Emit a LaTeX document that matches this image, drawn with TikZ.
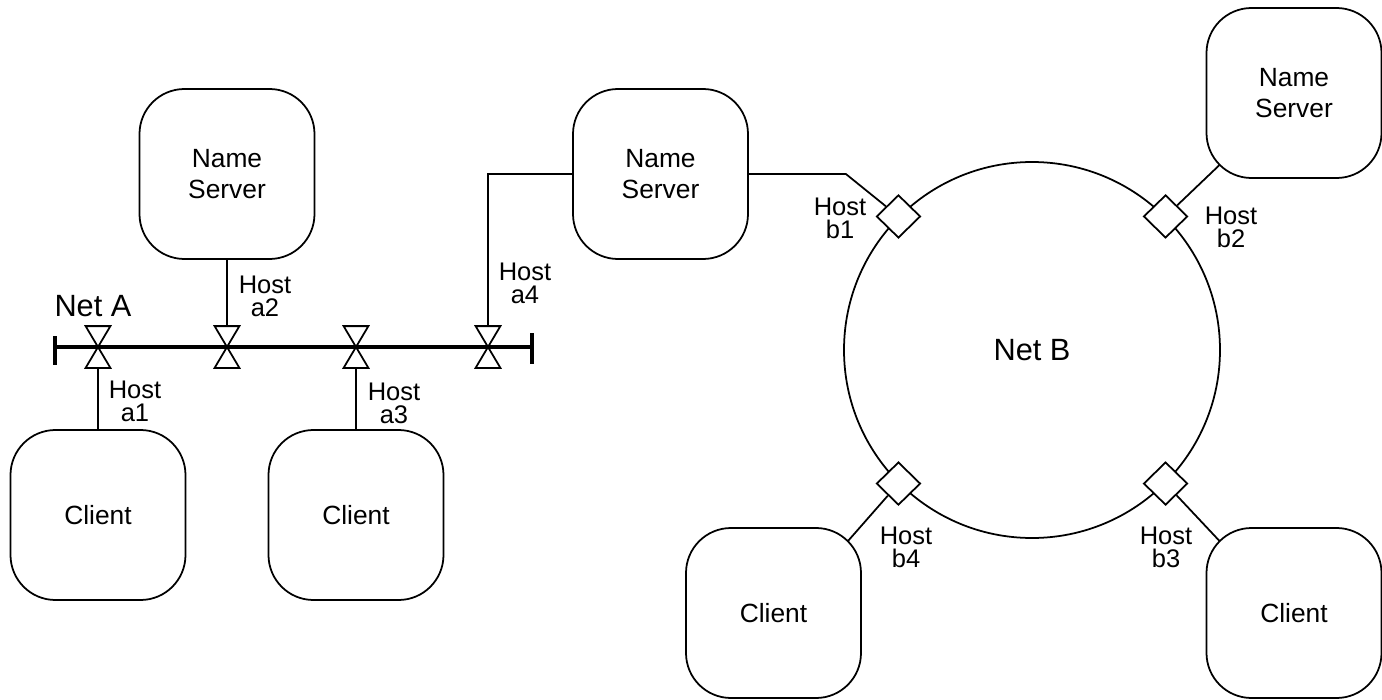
\documentclass[tikz,border=0pt]{standalone}
\usepackage{fontspec}
\setmainfont{Liberation Sans}
\usetikzlibrary{shapes.geometric}

\begin{document}
\begin{tikzpicture}[line width=1pt,
      box/.style={draw,rounded corners=0.9cm,minimum width=3.5cm,minimum height=3.4cm,align=center,font=\fontsize{15}{18}\selectfont},
      valve/.style={inner sep=0pt,minimum width=0.46cm,minimum height=0.8cm},
      port/.style={draw,fill=white,diamond,inner sep=0pt,minimum width=0.88cm,minimum height=0.86cm},
      host/.style={align=center,inner sep=0pt,font=\fontsize{14.5}{13}\selectfont},
      net/.style={font=\fontsize{17.5}{21}\selectfont},
      bus/.style={line width=2.6pt}]
  \useasboundingbox (0,0) rectangle (27.64,-14);

  % servers and clients
  \node[box] (nsa) at (4.54,-3.48) {Name\\Server};
  \node[box] (nsb) at (13.21,-3.48) {Name\\Server};
  \node[box] (nsc) at (25.88,-1.86) {Name\\Server};
  \node[box] (cla) at (1.96,-10.3) {Client};
  \node[box] (clb) at (7.12,-10.3) {Client};
  \node[box] (clc) at (15.47,-12.26) {Client};
  \node[box] (cld) at (25.88,-12.26) {Client};

  % net A: bus with end bars and taps
  \coordinate (busw) at (1.1,-6.94);
  \coordinate (buse) at (10.64,-6.94);
  \draw[bus] (busw) -- (buse);
  \draw[bus] ([yshift=0.22cm]busw) -- ([yshift=-0.36cm]busw);
  \draw[bus] ([yshift=0.28cm]buse) -- ([yshift=-0.34cm]buse);
  \node[net] (neta) at (1.86,-6.12) {Net A};
  \node[valve] (va1) at (1.96,-6.94) {};
  \node[valve] (va2) at (4.54,-6.94) {};
  \node[valve] (va3) at (7.12,-6.94) {};
  \node[valve] (va4) at (9.76,-6.94) {};
  \foreach \v in {va1,va2,va3,va4}
    \draw (\v.north west) -- (\v.north east) -- (\v.south west) -- (\v.south east) -- cycle;
  \draw (va1.south) -- (cla.north);
  \draw (nsa.south) -- (va2.north);
  \draw (va3.south) -- (clb.north);
  \draw (va4.north) |- (nsb.west);
  \node[host] (ha1) at (2.7,-8.02) {Host\\a1};
  \node[host] (ha2) at (5.3,-5.92) {Host\\a2};
  \node[host] (ha3) at (7.88,-8.06) {Host\\a3};
  \node[host] (ha4) at (10.5,-5.66) {Host\\a4};

  % net B: ring with four ports
  \node[draw,circle,minimum size=7.52cm,net] (netb) at (20.64,-7.0) {Net B};
  \node[port] (bone) at (netb.135) {};
  \node[port] (btwo) at (netb.45) {};
  \node[port] (bthree) at (netb.-45) {};
  \node[port] (bfour) at (netb.-135) {};
  \draw (nsb.east) -- ++(1.94,0) -- (bone);
  \draw (btwo) -- ([shift={(0.28,0.28)}]nsc.south west);
  \draw (bthree) -- ([shift={(0.28,-0.28)}]cld.north west);
  \draw (bfour) -- ([shift={(-0.28,-0.28)}]clc.north east);
  \node[host] (hb1) at (16.8,-4.37) {Host\\b1};
  \node[host] (hb2) at (24.62,-4.54) {Host\\b2};
  \node[host] (hb3) at (23.32,-10.94) {Host\\b3};
  \node[host] (hb4) at (18.12,-10.94) {Host\\b4};
\end{tikzpicture}
\end{document}
